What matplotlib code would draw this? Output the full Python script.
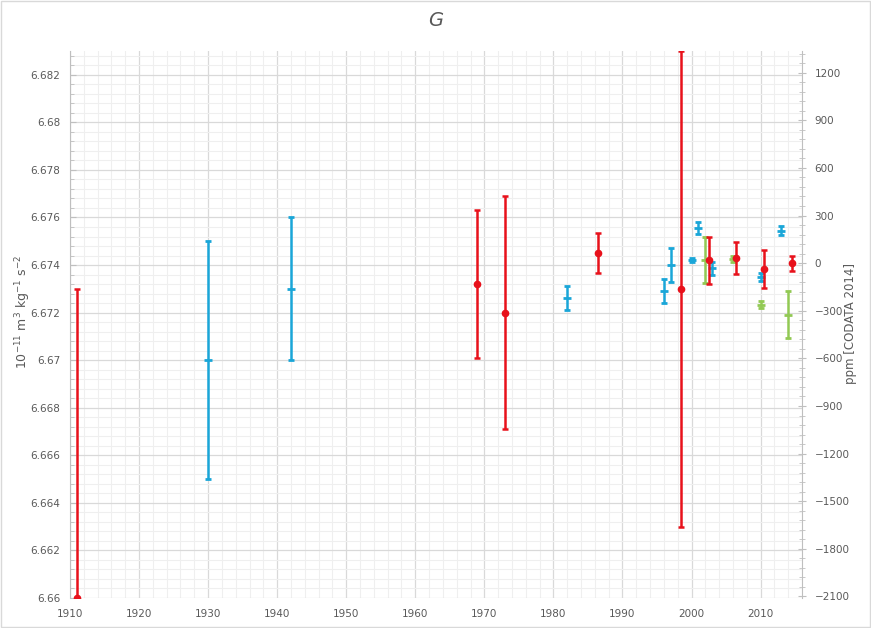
import matplotlib
matplotlib.use('Agg')
import matplotlib.pyplot as plt
from matplotlib.ticker import MultipleLocator, FuncFormatter
from matplotlib.patches import Rectangle

# measurements of G, in 10^-11 m^3 kg^-1 s^-2
red_years = [1911, 1969, 1973, 1986.5, 1998.5, 2002.5, 2006.5, 2010.5, 2014.5]
red_g = [6.660, 6.6732, 6.6720, 6.6745, 6.6730, 6.6742, 6.67428, 6.67384, 6.67408]
red_err = [0.013, 0.0031, 0.0049, 0.00083, 0.010, 0.0010, 0.00067, 0.0008, 0.00031]

blue_years = [1930, 1942, 1982, 1996, 1997, 2000, 2001, 2003, 2010, 2013]
blue_g = [6.670, 6.673, 6.6726, 6.6729, 6.6740, 6.67422, 6.67556, 6.67387, 6.67349, 6.67545]
blue_err = [0.005, 0.003, 0.0005, 0.0005, 0.0007, 0.00009, 0.00027, 0.00027, 0.00018, 0.00018]

green_years = [2002, 2006, 2010, 2014]
green_g = [6.67422, 6.674252, 6.67234, 6.67191]
green_err = [0.00098, 0.00012, 0.00014, 0.00099]

CODATA_2014 = 6.67408

RED = '#e8111b'
BLUE = '#1aa6d8'
GREEN = '#92c954'
TXT = '#595959'


def to_ppm(g):
    return (g / CODATA_2014 - 1) * 1e6


def from_ppm(p):
    return CODATA_2014 * (1 + p / 1e6)


fig = plt.figure(figsize=(8.71, 6.28), dpi=100)
ax = fig.add_axes([70 / 871, 1 - 598 / 628, 732 / 871, 547 / 628])

ax.errorbar(blue_years, blue_g, yerr=blue_err, fmt='_', color=BLUE, ms=6, mew=2,
            elinewidth=1.8, capsize=2.2, capthick=1.8, zorder=3)
ax.errorbar(green_years, green_g, yerr=green_err, fmt='_', color=GREEN, ms=6, mew=2,
            elinewidth=1.8, capsize=2.2, capthick=1.8, zorder=3)
ax.errorbar(red_years, red_g, yerr=red_err, fmt='o', color=RED, ms=4.5,
            elinewidth=1.8, capsize=2.2, capthick=1.8, zorder=4)

ax.set_xlim(1910, 2016)
ax.set_ylim(6.66, 6.683)
ax.xaxis.set_major_locator(MultipleLocator(10))
ax.xaxis.set_minor_locator(MultipleLocator(2))
ax.yaxis.set_major_locator(MultipleLocator(0.002))
ax.yaxis.set_minor_locator(MultipleLocator(0.0004))
ax.yaxis.set_major_formatter(FuncFormatter(lambda v, p: '%g' % round(v, 4)))
ax.xaxis.get_offset_text().set_visible(False)
ax.yaxis.get_offset_text().set_visible(False)

ax.grid(which='major', color='#d9d9d9', linewidth=0.9)
ax.grid(which='minor', color='#efefef', linewidth=0.8)
ax.set_axisbelow(True)

for s in ['top', 'bottom', 'right']:
    ax.spines[s].set_visible(False)
ax.spines['left'].set_color('#bfbfbf')

ax.tick_params(axis='x', which='both', length=0, labelsize=7.5, colors=TXT, pad=8)
ax.tick_params(axis='y', which='major', direction='in', length=4, color='#bfbfbf',
               labelsize=7.5, labelcolor=TXT, pad=7)
ax.tick_params(axis='y', which='minor', direction='in', length=3, color='#bfbfbf')

sec = ax.secondary_yaxis('right', functions=(to_ppm, from_ppm))
sec.yaxis.set_major_locator(MultipleLocator(300))
sec.yaxis.set_minor_locator(MultipleLocator(60))
sec.yaxis.get_offset_text().set_visible(False)
sec.xaxis.set_visible(False)
sec.spines['right'].set_color('#bfbfbf')
sec.tick_params(which='major', direction='inout', length=6, color='#bfbfbf',
                labelsize=7.5, labelcolor=TXT, pad=6)
sec.tick_params(which='minor', direction='inout', length=4, color='#bfbfbf')

# axis titles placed by hand, as in the original layout
fig.text(23 / 871, 1 - 312 / 628, '10$^{-11}$ m$^3$ kg$^{-1}$ s$^{-2}$', rotation=90,
         ha='center', va='center', color=TXT, fontsize=9)
fig.text(850 / 871, 1 - 324 / 628, 'ppm [CODATA 2014]', rotation=90,
         ha='center', va='center', color=TXT, fontsize=8.5)

fig.text(0.5, 1 - 21 / 628, 'G', ha='center', va='center', fontsize=14,
         style='italic', color=TXT)

fig.patches.append(Rectangle((0.001, 0.001), 0.998, 0.998, transform=fig.transFigure,
                             fill=False, edgecolor='#d9d9d9', linewidth=1))

fig.savefig('out.png', dpi=100)
